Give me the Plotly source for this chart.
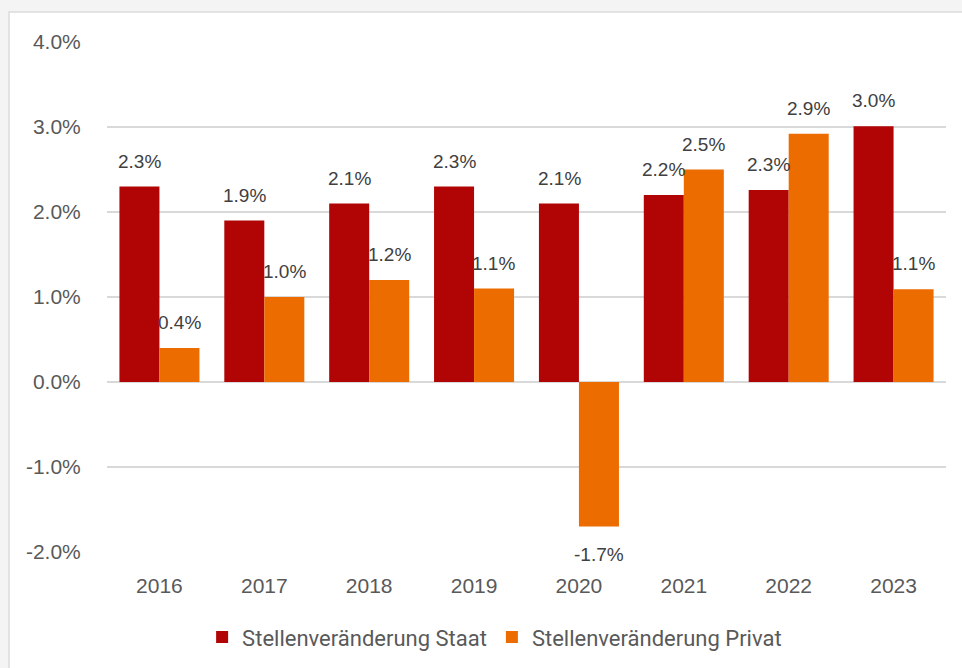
import plotly.graph_objects as go

years = ["2016", "2017", "2018", "2019", "2020", "2021", "2022", "2023"]
staat = [2.3, 1.9, 2.1, 2.3, 2.1, 2.2, 2.26, 3.01]
privat = [0.4, 1.0, 1.2, 1.1, -1.7, 2.5, 2.92, 1.09]
y_ticks = [-2, -1, 0, 1, 2, 3, 4]
y_ticktext = ["-2.0%", "-1.0%", "0.0%", "1.0%", "2.0%", "3.0%", "4.0%"]

RED = "#b10505"
ORANGE = "#ed6c00"
FONT = "Liberation Sans, Arial, sans-serif"

fig = go.Figure()
fig.add_trace(go.Bar(x=years, y=staat, name="Stellenveränderung Staat",
                     marker=dict(color=RED, line=dict(width=0))))
fig.add_trace(go.Bar(x=years, y=privat, name="Stellenveränderung Privat",
                     marker=dict(color=ORANGE, line=dict(width=0))))

annotations = []
off = 0.19
for i, (s, p) in enumerate(zip(staat, privat)):
    for dx, v in ((-off, s), (off, p)):
        annotations.append(dict(
            x=i + dx, y=v, xref="x", yref="y", text=f"{v:.1f}%", showarrow=False,
            yanchor="bottom" if v >= 0 else "top", yshift=13 if v >= 0 else -15,
            font=dict(family=FONT, size=19, color="#404040")))

fig.update_layout(
    width=962, height=668,
    margin=dict(l=107, r=16, t=42, b=116, autoexpand=False),
    paper_bgcolor="#f4f4f4", plot_bgcolor="white",
    barmode="group", bargap=0.237, bargroupgap=0,
    font=dict(family=FONT, size=20, color="#595959"),
    showlegend=True,
    legend=dict(orientation="h", x=0.462, xanchor="center", y=-0.167, yanchor="middle",
                font=dict(family="Roboto, sans-serif", size=22, color="#595959"),
                itemsizing="constant", itemwidth=30, bgcolor="rgba(0,0,0,0)", traceorder="normal"),
    annotations=annotations,
    shapes=[dict(type="rect", xref="paper", yref="paper", x0=-0.1168, x1=1.1, y0=-0.4, y1=1.0588,
                 fillcolor="white", line=dict(color="#dcdcdc", width=1.5), layer="below")],
)
fig.update_yaxes(range=[-2, 4], tickvals=y_ticks, ticktext=y_ticktext, automargin=False,
                 showgrid=True, gridcolor="#d9d9d9", gridwidth=1.5,
                 zeroline=True, zerolinecolor="#d9d9d9", zerolinewidth=1.5,
                 ticks="outside", ticklen=21, tickcolor="rgba(0,0,0,0)",
                 tickfont=dict(family=FONT, size=21, color="#595959"), showline=False)
fig.update_xaxes(showgrid=False, ticks="outside", ticklen=15, tickcolor="rgba(0,0,0,0)", automargin=False,
                 tickfont=dict(family=FONT, size=21, color="#595959"), showline=False)

fig.write_html("out.html")
